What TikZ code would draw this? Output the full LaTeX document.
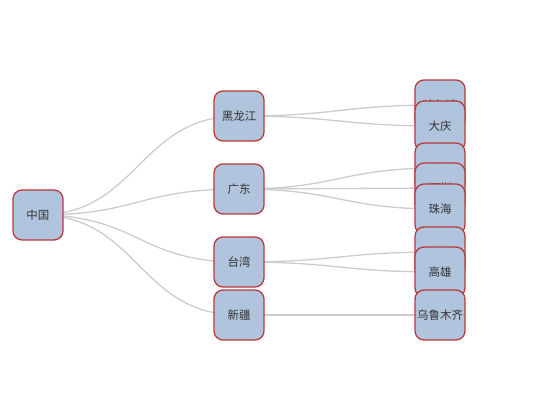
\documentclass[tikz,border=0pt]{standalone}
\usepackage{fontspec}
\newfontfamily\cjk{Noto Sans CJK SC}
\usetikzlibrary{backgrounds, calc}
\definecolor{boxfill}{HTML}{B0C4DE}
\definecolor{boxedge}{HTML}{B83B3B}
\definecolor{linkgray}{HTML}{CCCCCC}
\definecolor{textgray}{HTML}{333333}

\begin{document}
\begin{tikzpicture}[x=1pt, y=-1pt,
  box/.style={draw=boxedge, fill=boxfill, line width=1.3pt, rounded corners=9pt,
    minimum width=50pt, minimum height=50pt, inner sep=0pt, text=textgray,
    font=\cjk\fontsize{11.5}{13}\selectfont},
  link/.style={draw=linkgray, line width=1.3pt}]
  \useasboundingbox (0,0) rectangle (550,420);
  % root and provinces
  \node[box] (zg) at (38,215) {中国};
  \node[box] (hlj) at (239,116) {黑龙江};
  \node[box] (gd) at (239,189) {广东};
  \node[box] (tw) at (239,262) {台湾};
  \node[box] (xj) at (239,315) {新疆};
  % cities
  \node[box] (heb) at (440,105) {哈尔滨};
  \node[box] (dq) at (440,126) {大庆};
  \node[box] (gz) at (440,168) {广州};
  \node[box] (sz) at (440,188) {深圳};
  \node[box] (zh) at (440,209) {珠海};
  \node[box] (tb) at (440,252) {台北};
  \node[box] (gx) at (440,272) {高雄};
  \node[box] (wlmq) at (440,315) {乌鲁木齐};
  % links
  \begin{pgfonlayer}{background}
    \foreach \a/\b in {zg/hlj, zg/gd, zg/tw, zg/xj, hlj/heb, hlj/dq,
        gd/gz, gd/sz, gd/zh, tw/tb, tw/gx, xj/wlmq} {
      \coordinate (m) at ($(\a.center)!0.5!(\b.center)$);
      \draw[link] (\a.center) .. controls (m |- \a.center) and (m |- \b.center) .. (\b.center);
    }
  \end{pgfonlayer}
\end{tikzpicture}
\end{document}
